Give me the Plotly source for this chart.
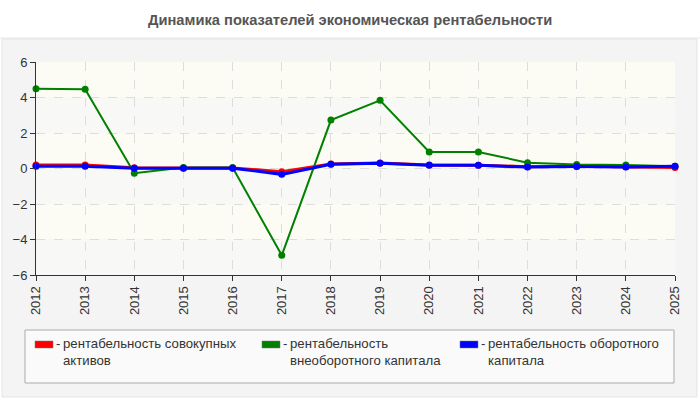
import plotly.graph_objects as go

years = [2012, 2013, 2014, 2015, 2016, 2017, 2018, 2019, 2020, 2021, 2022, 2023, 2024, 2025]
ra_total = [0.20, 0.20, 0.04, 0.03, 0.03, -0.18, 0.26, 0.31, 0.20, 0.19, 0.10, 0.12, 0.10, 0.05]
ra_noncurrent = [4.50, 4.46, -0.27, 0.05, 0.05, -4.89, 2.73, 3.84, 0.93, 0.93, 0.33, 0.22, 0.20, 0.12]
ra_current = [0.12, 0.12, 0.01, 0.02, 0.02, -0.33, 0.24, 0.29, 0.18, 0.18, 0.08, 0.11, 0.09, 0.12]

names = [["рентабельность совокупных", "активов"],
         ["рентабельность", "внеоборотного капитала"],
         ["рентабельность оборотного", "капитала"]]
colors = ["#ff0000", "#008000", "#0000ff"]
title = "Динамика показателей экономическая рентабельности"
yticks = [-6, -4, -2, 0, 2, 4, 6]

W, H = 700, 400
L, R, T, B = 36, 25, 62, 125
pw, ph = W - L - R, H - T - B

def px(x):
    return (x - L) / pw

def py(y):
    return (H - B - y) / ph

fig = go.Figure()
series = [(ra_total, 0, 3), (ra_noncurrent, 1, 2), (ra_current, 2, 3)]
for vals, i, w in series:
    fig.add_trace(go.Scatter(
        x=years, y=vals, mode="lines+markers", name=" ".join(names[i]),
        line=dict(color=colors[i], width=w),
        marker=dict(color=colors[i], size=7),
        showlegend=False, cliponaxis=False))

shapes = []
# outer panel
shapes.append(dict(type="rect", xref="paper", yref="paper", layer="below",
                   x0=px(2), x1=px(697), y0=py(397), y1=py(39),
                   fillcolor="#f4f4f4", line=dict(color="#e4e4e4", width=1)))
# alternating plot-area bands
for k in range(len(yticks) - 1):
    fill = "#f8f8f6" if k % 2 == 0 else "#fcfcf4"
    shapes.append(dict(type="rect", xref="paper", yref="y", layer="below",
                       x0=0, x1=1, y0=yticks[k], y1=yticks[k + 1],
                       fillcolor=fill, line=dict(width=0)))
# legend box
shapes.append(dict(type="rect", xref="paper", yref="paper", layer="below",
                   x0=px(25), x1=px(674), y0=py(383), y1=py(330),
                   fillcolor="#fafafa", line=dict(color="#aaaaaa", width=1)))
# separator under title
shapes.append(dict(type="line", xref="paper", yref="paper",
                   x0=px(0), x1=px(700), y0=py(38), y1=py(38),
                   line=dict(color="#e6e6e6", width=1)))

annotations = [dict(text="<b>" + title + "</b>", xref="paper", yref="paper",
                    x=px(350), y=py(20), xanchor="center", yanchor="middle",
                    showarrow=False, font=dict(size=14.7, color="#555555"))]

sw_x = [35, 262, 460]
for i in range(3):
    shapes.append(dict(type="rect", xref="paper", yref="paper",
                       x0=px(sw_x[i]), x1=px(sw_x[i] + 18), y0=py(348), y1=py(341),
                       fillcolor=colors[i], line=dict(color="#777777", width=0.5)))
    annotations.append(dict(text="-", xref="paper", yref="paper",
                            x=px(sw_x[i] + 19), y=py(343), xanchor="left", yanchor="middle",
                            showarrow=False, font=dict(size=13, color="#333333")))
    annotations.append(dict(text="<br>".join(names[i]), xref="paper", yref="paper",
                            x=px(sw_x[i] + 26), y=py(352),
                            xanchor="left", yanchor="middle", align="left",
                            showarrow=False,
                            font=dict(size=13.2, color="#333333")))

fig.update_layout(
    width=W, height=H,
    margin=dict(l=L, r=R, t=T, b=B),
    paper_bgcolor="#ffffff",
    plot_bgcolor="rgba(0,0,0,0)",
    font=dict(family="Liberation Sans, Arial, sans-serif", size=13, color="#333333"),
    shapes=shapes, annotations=annotations,
    xaxis=dict(range=[2012, 2025], tickmode="array", tickvals=years,
               ticktext=[str(y) for y in years], tickangle=-90,
               showline=True, linecolor="#333333", ticks="outside", ticklen=5,
               tickcolor="#333333", showgrid=True, gridcolor="#dddddd", griddash="dash",
               zeroline=False, fixedrange=True, tickfont=dict(size=13)),
    yaxis=dict(range=[-6, 6], tickvals=yticks,
               showline=True, linecolor="#333333", ticks="outside", ticklen=5,
               tickcolor="#333333", showgrid=True, gridcolor="#dddddd", griddash="dash",
               zeroline=False, fixedrange=True, tickfont=dict(size=13)),
)

fig.write_html("out.html")
